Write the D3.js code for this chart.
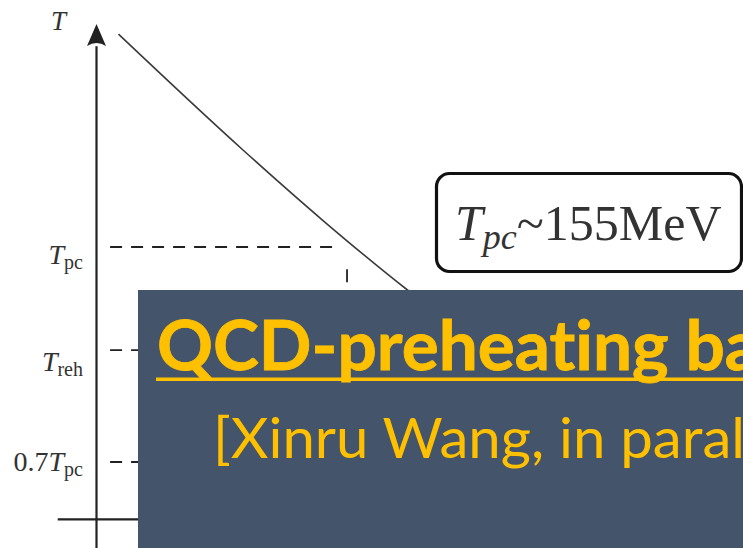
<!DOCTYPE html>
<html>
<head>
<meta charset="utf-8">
<script src="https://cdn.jsdelivr.net/npm/d3@7/dist/d3.min.js"></script>
<style>
  html, body { margin: 0; padding: 0; background: #fff; }
  svg { display: block; }
  text { font-variant-ligatures: none; font-feature-settings: "liga" 0, "clig" 0; }
</style>
</head>
<body>
<svg id="chart" width="743" height="548"></svg>
<script>
// Cooling curve: time (arbitrary units) vs temperature (in units of T_pc)
const coolTime = [0.34, 2.27, 3.49, 4.81, 5.01];
const coolTemp = [1.297, 1.135, 1.038, 0.94, 0.926];

// Reference temperature levels and their axis labels
const levelValues = [1.0, 0.856, 0.7];
const levelMain = ["T", "T", "0.7T"];
const levelSub = ["pc", "reh", "pc"];

// Marker on the time axis (dashed drop line)
const markTime = [3.875];
const markTempTop = [0.969];

// Text blocks
const boxLabel = { main: "T", sub: "pc", rest: "~155MeV" };
const bannerTitle = "QCD-preheating ba";
const bannerNote = "[Xinru Wang, in paral";

const W = 743, H = 548;
const svg = d3.select("#chart");

const x = d3.scaleLinear().domain([0, 10]).range([96.5, 743]);
const y = d3.scaleLinear().domain([0.7, 1.0]).range([462, 247]);

const ink = "#222";
const serif = "'Liberation Serif', 'DejaVu Serif', serif";

// Axes
const g = svg.append("g");
g.append("line")
  .attr("x1", x(0)).attr("x2", x(0))
  .attr("y1", y(0.58)).attr("y2", y(1.28))
  .attr("stroke", ink).attr("stroke-width", 2.2);
// arrow head
const tipY = y(1.311), tipX = x(0);
g.append("path")
  .attr("d", `M${tipX},${tipY} L${tipX - 9.5},${tipY + 22} Q${tipX},${tipY + 16} ${tipX + 9.5},${tipY + 22} Z`)
  .attr("fill", ink);
g.append("line")
  .attr("x1", x(-0.6)).attr("x2", x(6))
  .attr("y1", y(0.62)).attr("y2", y(0.62))
  .attr("stroke", ink).attr("stroke-width", 2.2);

g.append("text")
  .attr("x", 51).attr("y", 30)
  .attr("font-family", serif).attr("font-style", "italic")
  .attr("font-size", 27).attr("fill", "#333")
  .text("T");

// Dashed level lines
const levelEnd = [3.66, 6, 6];
g.selectAll("line.level")
  .data(levelValues)
  .join("line")
  .attr("class", "level")
  .attr("x1", x(0.21))
  .attr("x2", (d, i) => x(levelEnd[i]))
  .attr("y1", d => y(d)).attr("y2", d => y(d))
  .attr("stroke", ink).attr("stroke-width", 1.8)
  .attr("stroke-dasharray", "12 9");

// Level labels
const labelDy = [17, 21, 9];
const labels = g.selectAll("text.level")
  .data(levelValues)
  .join("text")
  .attr("class", "level")
  .attr("x", 83)
  .attr("y", (d, i) => y(d) + labelDy[i])
  .attr("text-anchor", "end")
  .attr("font-family", serif)
  .attr("font-size", 28)
  .attr("fill", "#333");
labels.each(function (d, i) {
  const t = d3.select(this);
  const m = levelMain[i];
  if (m.startsWith("0.7")) {
    t.append("tspan").text("0.7");
    t.append("tspan").attr("font-style", "italic").text("T");
  } else {
    t.append("tspan").attr("font-style", "italic").text(m);
  }
  t.append("tspan").attr("font-size", 20).attr("dy", 5).text(levelSub[i]);
});

// Vertical drop marker
g.selectAll("line.mark")
  .data(markTime)
  .join("line")
  .attr("class", "mark")
  .attr("x1", d => x(d)).attr("x2", d => x(d))
  .attr("y1", (d, i) => y(markTempTop[i])).attr("y2", y(0.62))
  .attr("stroke", ink).attr("stroke-width", 1.8)
  .attr("stroke-dasharray", "13 9");

// Cooling curve
const coolData = coolTime.map((t, i) => [t, coolTemp[i]]);
g.append("path")
  .datum(coolData)
  .attr("d", d3.line().x(d => x(d[0])).y(d => y(d[1])).curve(d3.curveMonotoneX))
  .attr("fill", "none")
  .attr("stroke", "#3a3a3a")
  .attr("stroke-width", 1.6);

// Rounded annotation box
const box = svg.append("g");
box.append("rect")
  .attr("x", 436.5).attr("y", 173.5)
  .attr("width", 305).attr("height", 98)
  .attr("rx", 13).attr("ry", 13)
  .attr("fill", "#fff")
  .attr("stroke", "#111").attr("stroke-width", 3.2);
const bt = box.append("text")
  .attr("x", 455).attr("y", 240)
  .attr("font-family", serif)
  .attr("font-size", 50)
  .attr("fill", "#333");
bt.append("tspan").attr("font-style", "italic").text(boxLabel.main);
bt.append("tspan").attr("font-style", "italic").attr("font-size", 36).attr("dy", 9).text(boxLabel.sub);
bt.append("tspan").attr("dy", -9).text(boxLabel.rest);

// Banner overlay
const banner = svg.append("g");
banner.append("rect")
  .attr("x", 138).attr("y", 290)
  .attr("width", W - 138).attr("height", H - 290)
  .attr("fill", "#44546A");
banner.append("text")
  .attr("x", 157).attr("y", 370)
  .attr("font-family", "Lato, 'Open Sans', sans-serif")
  .attr("font-weight", 700)
  .attr("font-size", 68)
  .attr("fill", "#FFC000")
  .attr("stroke", "#FFC000").attr("stroke-width", 0.8)
  .attr("textLength", 603)
  .attr("lengthAdjust", "spacingAndGlyphs")
  .text(bannerTitle);
banner.append("rect")
  .attr("x", 156).attr("y", 377.5)
  .attr("width", W - 156).attr("height", 3.5)
  .attr("fill", "#FFC000");
banner.append("text")
  .attr("x", 213).attr("y", 458)
  .attr("font-family", "Lato, 'Open Sans', sans-serif")
  .attr("font-weight", 400)
  .attr("font-size", 56)
  .attr("fill", "#FFC000")
  .attr("textLength", 532)
  .attr("lengthAdjust", "spacingAndGlyphs")
  .text(bannerNote);
</script>
</body>
</html>
